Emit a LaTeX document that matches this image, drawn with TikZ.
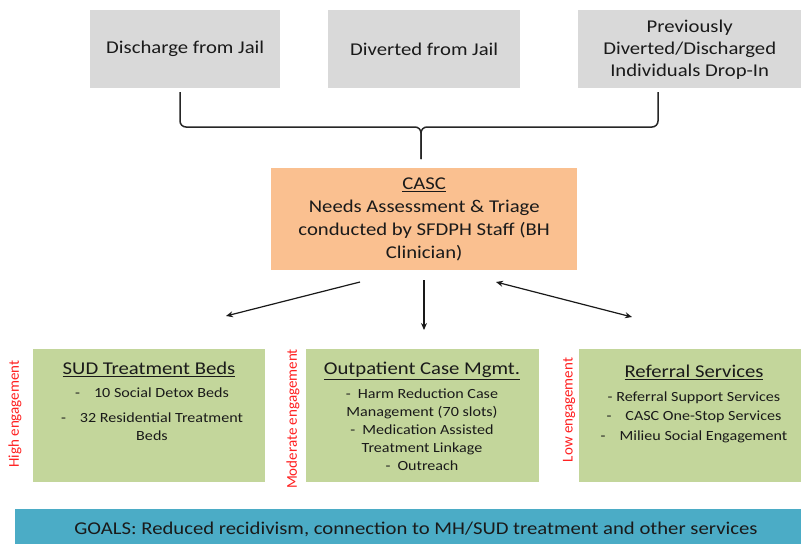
\documentclass[tikz,border=0pt]{standalone}
\usepackage{fontspec}
\setmainfont{Carlito}[FakeStretch=1.15]
\newfontfamily\plainfont{Carlito}
\usetikzlibrary{arrows.meta}
\definecolor{boxgray}{HTML}{D9D9D9}
\definecolor{boxorange}{HTML}{FAC090}
\definecolor{boxgreen}{HTML}{C3D69B}
\definecolor{boxteal}{HTML}{4BACC6}
\definecolor{engred}{HTML}{FF2020}
\definecolor{txt}{HTML}{1A1A1A}
\begin{document}
\begin{tikzpicture}[x=1pt,y=-1pt,
  every node/.style={text=txt},
  topbox/.style={fill=boxgray,draw=none,anchor=north west,inner sep=0pt,align=center,font=\fontsize{18}{22}\selectfont},
  greenbox/.style={fill=boxgreen,draw=none,anchor=north west,inner sep=0pt},
  ttl/.style={font=\fontsize{18}{22}\selectfont,inner sep=0pt},
  items/.style={font=\fontsize{14}{18}\selectfont,align=center,inner sep=0pt},
  eng/.style={text=engred,rotate=90,font=\plainfont\fontsize{15}{18}\selectfont,inner sep=0pt},
  brk/.style={line width=1.5pt,draw=black!85,rounded corners=6pt},
  arr/.style={line width=1.2pt,draw=black!90,-{Stealth[length=7pt,width=6pt]}},
  darr/.style={line width=1.2pt,draw=black!90,{Stealth[length=7pt,width=6pt]}-{Stealth[length=7pt,width=6pt]}}
]
\useasboundingbox (0,0) rectangle (801,544);
\fill[white] (0,0) rectangle (801,544);

% top boxes
\node[topbox,minimum width=190pt,minimum height=78pt] (b1) at (90,10) {Discharge from Jail};
\node[topbox,minimum width=192pt,minimum height=78pt] (b2) at (328,10) {Diverted from Jail};
\node[topbox,minimum width=223pt,minimum height=78pt] (b3) at (578,10) {Previously\\Diverted/Discharged\\Individuals Drop-In};

% bracket
\coordinate (bl) at (180,92);
\coordinate (br) at (658,92);
\coordinate (bm) at (421,127);
\coordinate (bt) at (421,159);
\draw[brk] (bl) |- (bm) -- (bt);
\draw[brk] (br) |- (bm) -- (bt);

% CASC
\node[fill=boxorange,anchor=north west,minimum width=306pt,minimum height=102pt,inner sep=0pt,align=center,font=\fontsize{18}{23}\selectfont] (casc) at (271,168)
  {\underline{CASC}\\Needs Assessment \& Triage\\conducted by SFDPH Staff (BH\\Clinician)};

% arrows
\coordinate (a1s) at (360,282);
\coordinate (a1e) at (226,316);
\coordinate (a2s) at (424,280);
\coordinate (a2e) at (424,330);
\coordinate (a3s) at (496,282);
\coordinate (a3e) at (632,317);
\draw[arr] (a1s) -- (a1e);
\draw[arr] (a2s) -- (a2e);
\draw[darr] (a3s) -- (a3e);

% green boxes
\node[greenbox,minimum width=232pt,minimum height=133pt] (g1) at (33,349) {};
\node[greenbox,minimum width=233pt,minimum height=133pt] (g2) at (306,349) {};
\node[greenbox,minimum width=222pt,minimum height=133pt] (g3) at (579,349) {};

\node[ttl] (t1) at (149,369) {\underline{SUD Treatment Beds}};
\node[items] (i1) at (152,414) {-\quad 10 Social Detox Beds\\[7pt]-\quad 32 Residential Treatment\\Beds};

\node[ttl] (t2) at (422,371) {\underline{Outpatient Case Mgmt.}};
\node[items] (i2) at (422,430) {-\enspace Harm Reduction Case\\Management (70 slots)\\-\enspace Medication Assisted\\Treatment Linkage\\-\enspace Outreach};

\node[ttl] (t3) at (694,372) {\underline{Referral Services}};
\node[items,font=\fontsize{14}{19.5}\selectfont] (i3) at (694,417) {- Referral Support Services\\-\quad CASC One-Stop Services\\-\quad Milieu Social Engagement};

% engagement labels
\node[eng] (e1) at (15,414) {High engagement};
\node[eng] (e2) at (293,419) {Moderate engagement};
\node[eng] (e3) at (569,410) {Low engagement};

% goals
\node[fill=boxteal,anchor=north west,minimum width=786pt,minimum height=35pt,inner sep=0pt] (goal) at (15,509) {};
\node[font=\fontsize{18}{22}\selectfont,inner sep=0pt] (goaltxt) at (416,529) {GOALS: Reduced recidivism, connection to MH/SUD treatment and other services};
\end{tikzpicture}
\end{document}
